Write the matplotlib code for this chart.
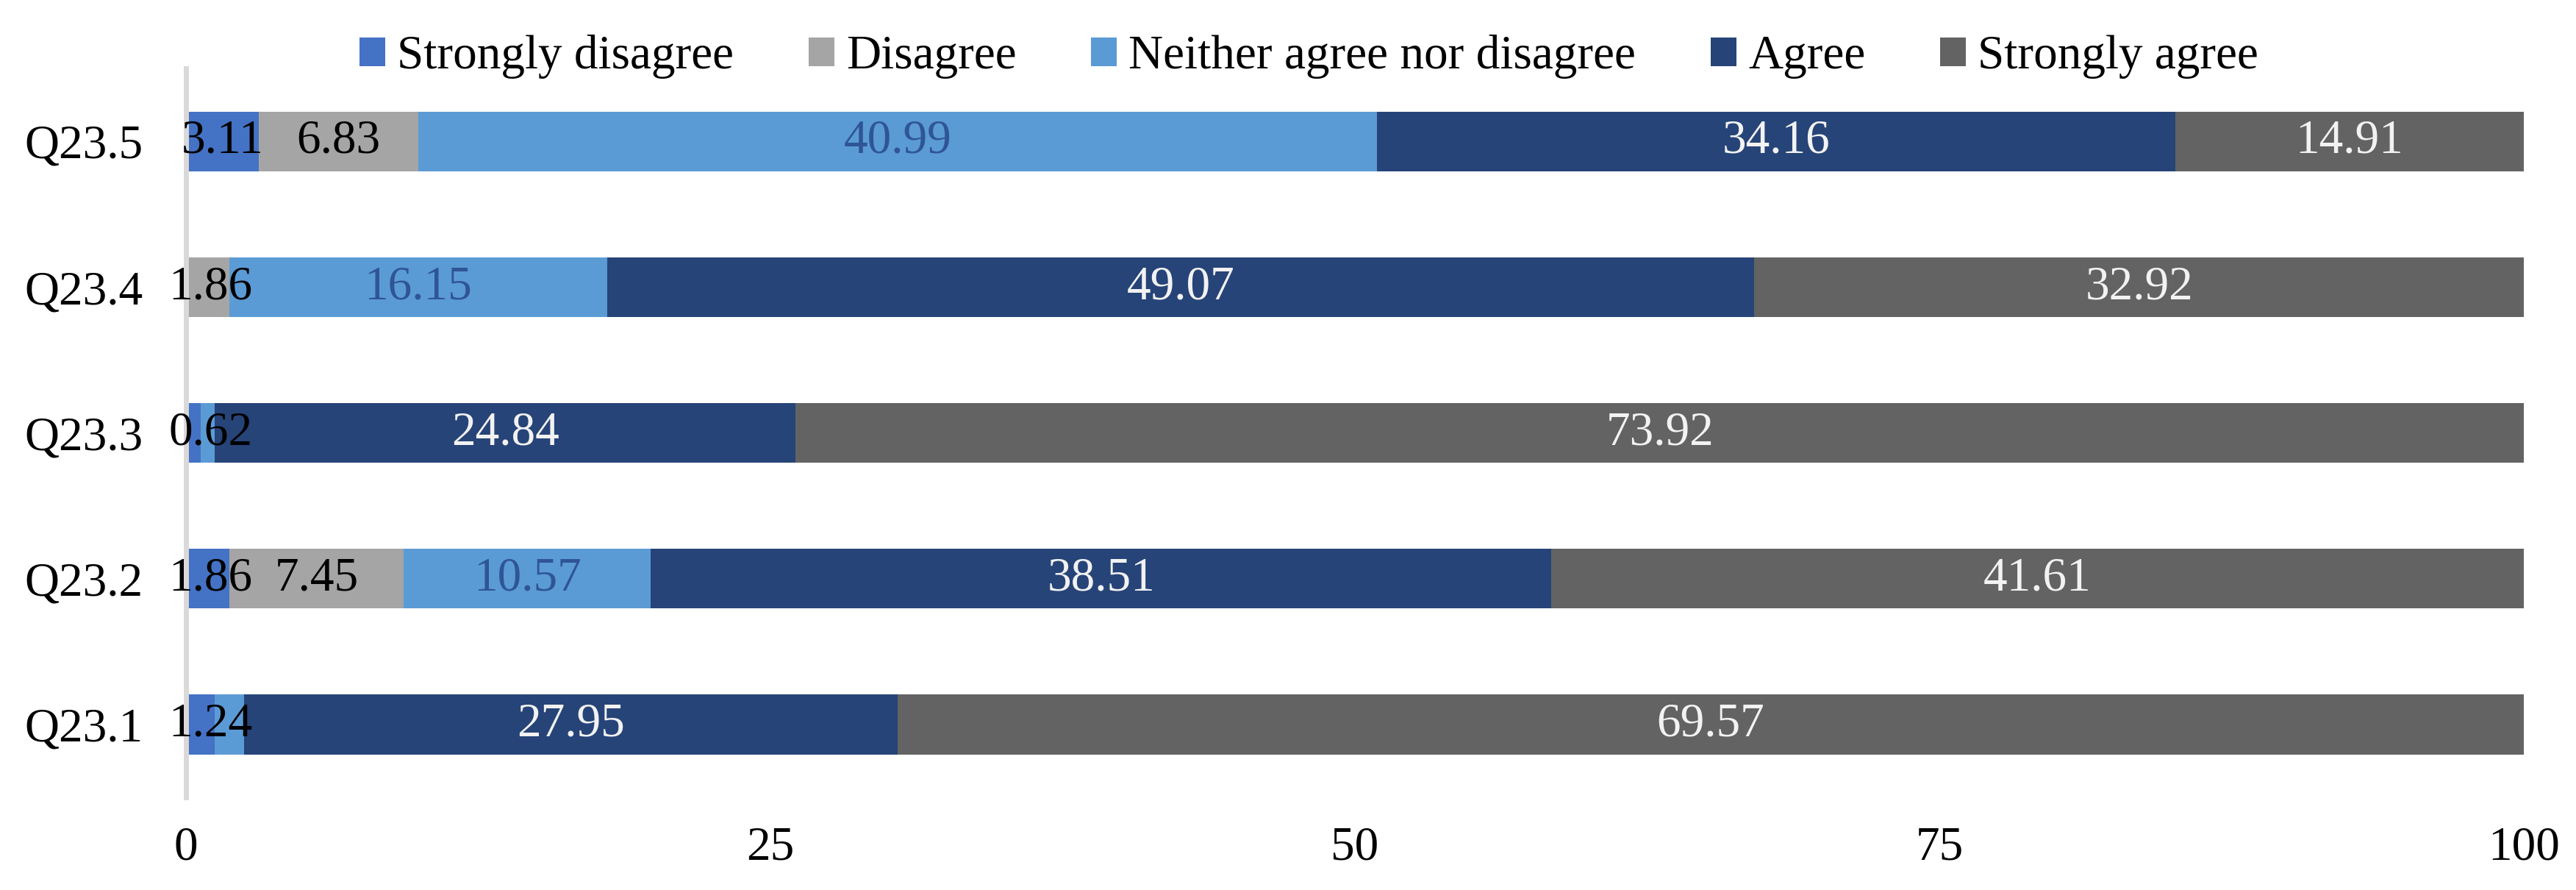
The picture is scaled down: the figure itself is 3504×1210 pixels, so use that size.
import numpy as np
import matplotlib.pyplot as plt

plt.rcParams['font.family'] = ['Liberation Serif', 'DejaVu Serif']

questions = ['Q23.1', 'Q23.2', 'Q23.3', 'Q23.4', 'Q23.5']
series = ['Strongly disagree', 'Disagree', 'Neither agree nor disagree', 'Agree', 'Strongly agree']
strongly_disagree = [1.24, 1.86, 0.62, 0.0, 3.11]
disagree = [0.0, 7.45, 0.0, 1.86, 6.83]
neither = [1.24, 10.57, 0.62, 16.15, 40.99]
agree = [27.95, 38.51, 24.84, 49.07, 34.16]
strongly_agree = [69.57, 41.61, 73.92, 32.92, 14.91]
xticks = [0, 25, 50, 75, 100]

values = [strongly_disagree, disagree, neither, agree, strongly_agree]
colors = ['#4472C4', '#A5A5A5', '#5B9BD5', '#264478', '#636363']
label_colors = ['black', 'black', '#2F5597', '#F2F2F2', '#F2F2F2']

fs = 23.5
fig = plt.figure(figsize=(17.525, 6.05), dpi=200)
ax = fig.add_axes([0.0722, 0.1041, 0.9073, 0.8190])

y = np.arange(len(questions))
left = np.zeros(len(questions))
last_label = [None] * len(questions)
for vals, name, c, lc in zip(values, series, colors, label_colors):
    vals = np.array(vals)
    ax.barh(y, vals, left=left, height=0.41, color=c, label=name, zorder=1)
    for i, v in enumerate(vals):
        if v <= 0:
            continue
        # keep labels inside the plot, skip ones that would overlap
        xc = max(left[i] + v / 2, 1.04)
        if last_label[i] is not None and xc - last_label[i] < 1.5:
            continue
        last_label[i] = xc
        ax.text(xc, y[i], f'{v:.2f}', ha='center', va='center',
                color=lc, fontsize=fs)
    left += vals

ax.set_xlim(0, 100)
ax.set_ylim(-0.5, 4.5)
ax.set_xticks(xticks)
ax.set_xticklabels([str(t) for t in xticks])
ax.set_yticks(y)
ax.set_yticklabels(questions)
ax.tick_params(axis='x', length=0, labelsize=fs, pad=14)
ax.tick_params(axis='y', length=0, labelsize=fs, pad=21)
for s in ['top', 'right', 'bottom']:
    ax.spines[s].set_visible(False)
ax.spines['left'].set_color('#D9D9D9')
ax.spines['left'].set_linewidth(2.5)

fig.legend(loc='center', bbox_to_anchor=(0.508, 0.936), ncol=5, frameon=False,
           fontsize=fs, handlelength=0.53, handleheight=0.53,
           handletextpad=0.25, columnspacing=1.56)

plt.savefig('out.png', dpi=200)
